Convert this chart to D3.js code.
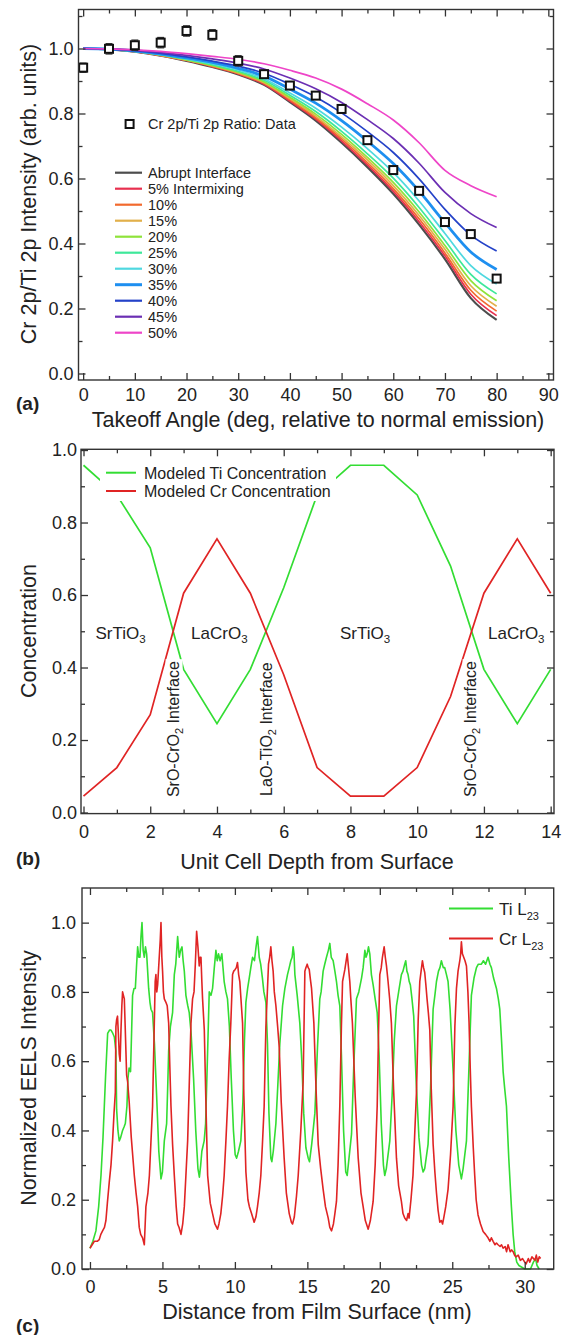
<!DOCTYPE html>
<html>
<head>
<meta charset="utf-8">
<script src="https://cdn.jsdelivr.net/npm/d3@7"></script>
<style>
body { margin: 0; background: #fff; }
text { font-family: "Liberation Sans", Arial, sans-serif; fill: #222; }
</style>
</head>
<body>
<script>
// ---- panel (a): takeoff angle curves ----
var angles = [0,5,10,15,20,25,30,35,40,45,50,55,60,65,70,75,80];
var abrupt = [1.0,0.997,0.99,0.978,0.962,0.943,0.92,0.888,0.835,0.778,0.71,0.635,0.553,0.458,0.352,0.232,0.165];
var mix5  = [1.0,0.997,0.99,0.978,0.963,0.944,0.922,0.89,0.838,0.783,0.716,0.642,0.561,0.467,0.362,0.244,0.178];
var mix10 = [1.0,0.997,0.99,0.979,0.964,0.945,0.923,0.893,0.842,0.787,0.722,0.649,0.569,0.476,0.371,0.256,0.192];
var mix15 = [1.0,0.997,0.991,0.979,0.964,0.947,0.925,0.895,0.846,0.792,0.728,0.657,0.578,0.486,0.382,0.27,0.207];
var mix20 = [1.0,0.997,0.991,0.98,0.965,0.948,0.927,0.898,0.85,0.798,0.736,0.665,0.588,0.497,0.394,0.286,0.224];
var mix25 = [1.0,0.997,0.991,0.981,0.967,0.95,0.93,0.902,0.856,0.806,0.745,0.676,0.601,0.511,0.409,0.305,0.245];
var mix30 = [1.0,0.998,0.992,0.982,0.968,0.953,0.934,0.907,0.863,0.816,0.758,0.692,0.619,0.531,0.431,0.332,0.275];
var mix35 = [1.0,0.998,0.992,0.983,0.971,0.957,0.939,0.915,0.875,0.832,0.778,0.715,0.646,0.561,0.464,0.374,0.32];
var mix40 = [1.0,0.998,0.993,0.985,0.974,0.961,0.946,0.924,0.89,0.851,0.802,0.744,0.68,0.599,0.505,0.426,0.377];
var mix45 = [1.0,0.999,0.995,0.988,0.979,0.968,0.955,0.937,0.909,0.876,0.834,0.781,0.723,0.647,0.557,0.492,0.449];
var mix50 = [1.0,0.999,0.996,0.991,0.984,0.976,0.967,0.953,0.933,0.909,0.875,0.83,0.78,0.71,0.625,0.578,0.544];
var curveNames = ["Abrupt Interface","5% Intermixing","10%","15%","20%","25%","30%","35%","40%","45%","50%"];
var curveColors = ["#4d4d4d","#e8304f","#f26a2e","#e2b04a","#8fe33a","#3ee89a","#4fd8e0","#1e8ff0","#2442c8","#6b2fb3","#ee45c8"];

var ratioVal = [0.941,0.999,1.01,1.018,1.054,1.042,0.962,0.921,0.886,0.855,0.814,0.718,0.626,0.562,0.466,0.429,0.292];
var ratioErr = [0.014,0.016,0.016,0.016,0.016,0.016,0.016,0.012,0.012,0.01,0.012,0.01,0.01,0.008,0.008,0.008,0.008];

// ---- panel (b): modeled concentration ----
var depth = [0,1,2,3,4,5,6,7,8,9,10,11,12,13,14];
var tiConc = [0.958,0.876,0.73,0.395,0.245,0.395,0.62,0.876,0.958,0.958,0.876,0.68,0.395,0.245,0.395];
var crConc = [0.045,0.124,0.27,0.605,0.755,0.605,0.38,0.124,0.045,0.045,0.124,0.32,0.605,0.755,0.605];

// ---- panel (c): EELS line profiles [nm, intensity] ----
var tiL23 = [[0,0.06],[0.2,0.08],[0.41,0.11],[0.6,0.18],[0.76,0.27],[0.9,0.38],[0.99,0.47],[1.08,0.56],[1.22,0.68],[1.35,0.69],[1.45,0.69],[1.58,0.68],[1.68,0.67],[1.79,0.63],[1.84,0.46],[1.93,0.4],[2.02,0.37],[2.12,0.38],[2.25,0.4],[2.35,0.41],[2.44,0.42],[2.55,0.47],[2.62,0.55],[2.7,0.58],[2.8,0.57],[2.94,0.79],[3.04,0.81],[3.13,0.81],[3.22,0.88],[3.29,0.93],[3.37,0.9],[3.45,0.9],[3.52,0.96],[3.59,1.0],[3.67,0.92],[3.75,0.9],[3.83,0.93],[3.91,0.91],[3.98,0.86],[4.05,0.81],[4.14,0.77],[4.21,0.75],[4.32,0.74],[4.45,0.65],[4.6,0.5],[4.75,0.34],[4.9,0.26],[5.0,0.28],[5.13,0.37],[5.29,0.42],[5.36,0.52],[5.43,0.63],[5.55,0.7],[5.7,0.74],[5.82,0.85],[5.92,0.88],[6.05,0.96],[6.16,0.9],[6.25,0.92],[6.35,0.93],[6.43,0.89],[6.51,0.86],[6.62,0.79],[6.75,0.76],[6.85,0.74],[6.98,0.68],[7.15,0.55],[7.3,0.4],[7.45,0.29],[7.55,0.265],[7.64,0.3],[7.72,0.34],[7.88,0.37],[7.98,0.42],[8.1,0.6],[8.23,0.8],[8.35,0.79],[8.46,0.81],[8.58,0.87],[8.69,0.92],[8.78,0.89],[8.87,0.91],[8.98,0.89],[9.1,0.91],[9.18,0.87],[9.26,0.83],[9.38,0.8],[9.49,0.78],[9.62,0.7],[9.75,0.55],[9.9,0.4],[10.02,0.33],[10.12,0.32],[10.25,0.34],[10.41,0.37],[10.55,0.48],[10.66,0.66],[10.76,0.77],[10.88,0.81],[10.99,0.84],[11.1,0.87],[11.22,0.9],[11.35,0.89],[11.46,0.93],[11.56,0.96],[11.68,0.9],[11.78,0.88],[11.9,0.84],[12.0,0.8],[12.14,0.77],[12.25,0.65],[12.35,0.45],[12.48,0.32],[12.55,0.31],[12.65,0.34],[12.83,0.42],[12.95,0.52],[13.1,0.65],[13.29,0.76],[13.45,0.81],[13.63,0.85],[13.75,0.87],[13.86,0.89],[13.95,0.9],[14.02,0.93],[14.08,0.91],[14.14,0.85],[14.3,0.79],[14.48,0.71],[14.62,0.6],[14.75,0.45],[14.9,0.35],[15.06,0.32],[15.15,0.31],[15.3,0.36],[15.52,0.45],[15.7,0.64],[15.86,0.78],[15.95,0.8],[16.09,0.86],[16.2,0.88],[16.32,0.9],[16.45,0.92],[16.55,0.94],[16.65,0.9],[16.78,0.89],[16.9,0.86],[17.01,0.83],[17.12,0.79],[17.24,0.76],[17.35,0.62],[17.5,0.4],[17.65,0.28],[17.75,0.27],[17.85,0.31],[18.05,0.39],[18.2,0.58],[18.39,0.78],[18.55,0.8],[18.74,0.84],[18.85,0.87],[18.97,0.92],[19.05,0.9],[19.13,0.91],[19.22,0.93],[19.31,0.91],[19.42,0.85],[19.54,0.82],[19.68,0.78],[19.82,0.74],[19.95,0.62],[20.1,0.42],[20.25,0.3],[20.34,0.27],[20.45,0.29],[20.69,0.37],[20.85,0.5],[21.0,0.66],[21.15,0.76],[21.3,0.8],[21.49,0.85],[21.6,0.86],[21.72,0.88],[21.79,0.89],[21.87,0.86],[21.95,0.85],[22.03,0.83],[22.11,0.82],[22.22,0.78],[22.34,0.73],[22.5,0.55],[22.7,0.38],[22.88,0.3],[22.99,0.28],[23.1,0.29],[23.33,0.36],[23.5,0.52],[23.68,0.75],[23.8,0.79],[23.91,0.83],[24.05,0.86],[24.15,0.87],[24.25,0.89],[24.38,0.87],[24.48,0.87],[24.6,0.85],[24.71,0.83],[24.85,0.75],[25.05,0.58],[25.25,0.4],[25.45,0.3],[25.63,0.26],[25.75,0.29],[25.98,0.37],[26.15,0.58],[26.32,0.79],[26.5,0.84],[26.67,0.87],[26.8,0.88],[27.01,0.88],[27.15,0.89],[27.3,0.88],[27.47,0.9],[27.6,0.88],[27.7,0.87],[27.85,0.84],[28.05,0.81],[28.18,0.78],[28.28,0.75],[28.4,0.66],[28.51,0.57],[28.62,0.52],[28.74,0.47],[28.9,0.32],[29.08,0.18],[29.2,0.1],[29.31,0.05],[29.45,0.02],[29.6,0.01],[30.0,0.0],[30.4,0.0],[30.6,0.02],[30.75,0.03],[30.85,0.01],[31.0,0.0]];
var crL23 = [[0,0.06],[0.15,0.07],[0.3,0.08],[0.5,0.08],[0.64,0.085],[0.75,0.1],[0.87,0.11],[1.0,0.12],[1.1,0.14],[1.2,0.19],[1.33,0.25],[1.45,0.3],[1.56,0.37],[1.66,0.45],[1.75,0.51],[1.79,0.7],[1.84,0.72],[1.9,0.73],[1.96,0.68],[2.02,0.62],[2.08,0.6],[2.14,0.69],[2.2,0.76],[2.25,0.8],[2.31,0.79],[2.37,0.78],[2.43,0.7],[2.48,0.63],[2.53,0.56],[2.6,0.54],[2.71,0.48],[2.85,0.38],[3.06,0.27],[3.18,0.22],[3.29,0.18],[3.4,0.12],[3.5,0.1],[3.63,0.09],[3.75,0.07],[3.8,0.12],[3.86,0.18],[4.0,0.22],[4.1,0.27],[4.2,0.36],[4.32,0.47],[4.44,0.71],[4.5,0.83],[4.55,0.85],[4.61,0.8],[4.67,0.82],[4.78,0.9],[4.85,0.95],[4.9,1.0],[4.96,0.9],[5.01,0.86],[5.07,0.8],[5.13,0.78],[5.24,0.77],[5.33,0.76],[5.43,0.71],[5.5,0.6],[5.59,0.47],[5.7,0.36],[5.82,0.27],[5.95,0.18],[6.05,0.13],[6.15,0.12],[6.28,0.1],[6.4,0.13],[6.51,0.18],[6.62,0.27],[6.74,0.37],[6.85,0.53],[6.97,0.71],[7.08,0.78],[7.18,0.8],[7.27,0.88],[7.36,0.975],[7.45,0.93],[7.54,0.875],[7.6,0.9],[7.66,0.9],[7.72,0.83],[7.77,0.78],[7.89,0.69],[8.0,0.48],[8.12,0.27],[8.3,0.19],[8.46,0.16],[8.62,0.13],[8.8,0.115],[8.9,0.13],[9.03,0.16],[9.15,0.21],[9.26,0.27],[9.38,0.37],[9.49,0.47],[9.6,0.6],[9.72,0.71],[9.84,0.85],[9.92,0.86],[10.02,0.865],[10.1,0.87],[10.18,0.885],[10.26,0.85],[10.34,0.83],[10.45,0.76],[10.53,0.71],[10.62,0.5],[10.76,0.28],[10.9,0.2],[11.0,0.18],[11.15,0.16],[11.33,0.135],[11.45,0.15],[11.56,0.18],[11.68,0.22],[11.79,0.27],[11.9,0.36],[12.02,0.47],[12.14,0.7],[12.24,0.8],[12.32,0.88],[12.4,0.9],[12.48,0.93],[12.56,0.89],[12.64,0.86],[12.72,0.8],[12.83,0.76],[12.95,0.7],[13.06,0.64],[13.2,0.48],[13.4,0.32],[13.55,0.22],[13.75,0.16],[13.9,0.135],[13.98,0.13],[14.1,0.15],[14.25,0.21],[14.37,0.27],[14.55,0.4],[14.71,0.54],[14.83,0.86],[14.9,0.87],[14.99,0.88],[15.06,0.87],[15.13,0.865],[15.2,0.84],[15.29,0.81],[15.45,0.71],[15.6,0.52],[15.75,0.36],[15.92,0.29],[16.09,0.23],[16.25,0.18],[16.44,0.147],[16.55,0.12],[16.67,0.11],[16.8,0.13],[16.9,0.16],[17.01,0.195],[17.12,0.3],[17.24,0.47],[17.35,0.7],[17.43,0.83],[17.52,0.85],[17.59,0.865],[17.68,0.89],[17.75,0.91],[17.84,0.87],[17.93,0.83],[18.0,0.78],[18.11,0.71],[18.3,0.5],[18.51,0.32],[18.7,0.22],[18.85,0.18],[19.0,0.14],[19.2,0.115],[19.35,0.14],[19.54,0.195],[19.68,0.3],[19.82,0.47],[19.92,0.7],[20.0,0.85],[20.1,0.87],[20.18,0.9],[20.3,0.93],[20.38,0.9],[20.46,0.875],[20.57,0.83],[20.68,0.78],[20.8,0.71],[20.95,0.52],[21.15,0.32],[21.3,0.24],[21.49,0.195],[21.6,0.16],[21.72,0.147],[21.85,0.14],[21.95,0.16],[22.02,0.147],[22.15,0.2],[22.29,0.27],[22.4,0.38],[22.53,0.51],[22.65,0.72],[22.76,0.83],[22.85,0.86],[22.94,0.89],[23.02,0.87],[23.1,0.856],[23.18,0.82],[23.26,0.78],[23.35,0.74],[23.45,0.69],[23.55,0.52],[23.68,0.36],[23.8,0.28],[23.91,0.22],[24.02,0.17],[24.14,0.135],[24.25,0.14],[24.33,0.13],[24.41,0.147],[24.55,0.18],[24.71,0.23],[24.88,0.33],[25.06,0.47],[25.18,0.7],[25.29,0.81],[25.4,0.86],[25.52,0.89],[25.58,0.91],[25.63,0.945],[25.7,0.91],[25.79,0.9],[25.88,0.89],[25.98,0.875],[26.08,0.8],[26.16,0.71],[26.24,0.58],[26.32,0.47],[26.45,0.35],[26.55,0.27],[26.65,0.2],[26.78,0.156],[26.95,0.13],[27.13,0.108],[27.3,0.1],[27.47,0.09],[27.6,0.08],[27.7,0.09],[27.82,0.08],[27.95,0.07],[28.05,0.075],[28.16,0.07],[28.3,0.065],[28.4,0.07],[28.51,0.06],[28.65,0.065],[28.75,0.05],[28.85,0.07],[29.0,0.05],[29.1,0.055],[29.2,0.05],[29.3,0.04],[29.4,0.035],[29.55,0.04],[29.7,0.025],[29.85,0.03],[30.0,0.02],[30.1,0.015],[30.25,0.03],[30.35,0.02],[30.5,0.035],[30.6,0.03],[30.7,0.025],[30.8,0.04],[30.9,0.02],[31.0,0.035],[31.1,0.03]];

var svg = d3.select("body").append("svg")
    .attr("width", 564)
    .attr("height", 1335);

var fmt1 = d3.format(".1f");
var none = function(){ return ""; };

// frame with inward ticks on all four sides
function drawFrame(x, y, c) {
    var xl = x.range()[0], xr = x.range()[1], yb = y.range()[0], yt = y.range()[1];
    function put(axis, vals, size, fmt, pad, tx, ty) {
        var a = svg.append("g")
            .attr("transform", "translate(" + tx + "," + ty + ")")
            .call(axis.tickValues(vals).tickSizeInner(size).tickSizeOuter(0).tickPadding(pad).tickFormat(fmt))
            .attr("font-size", 18)
            .attr("color", "#333");
        a.select(".domain").remove();
        a.selectAll("line").attr("stroke-width", 1.3);
    }
    put(d3.axisBottom(x), c.xMajor, -7, d3.format("d"), c.xPad, 0, yb);
    put(d3.axisBottom(x), c.xMinor, -4, none, 0, 0, yb);
    put(d3.axisTop(x), c.xMajor, -7, none, 0, 0, yt);
    put(d3.axisTop(x), c.xMinor, -4, none, 0, 0, yt);
    put(d3.axisLeft(y), c.yMajor, -7, fmt1, c.yPad, xl, 0);
    put(d3.axisLeft(y), c.yMinor, -4, none, 0, xl, 0);
    put(d3.axisRight(y), c.yMajor, -7, none, 0, xr, 0);
    put(d3.axisRight(y), c.yMinor, -4, none, 0, xr, 0);
    svg.append("rect")
        .attr("x", xl).attr("y", yt)
        .attr("width", xr - xl).attr("height", yb - yt)
        .attr("fill", "none").attr("stroke", "#333").attr("stroke-width", 1.4);
}

function label(txt, x, y, size, opts) {
    var t = svg.append("text").attr("x", x).attr("y", y).attr("font-size", size).text(txt);
    if (opts && opts.anchor) t.attr("text-anchor", opts.anchor);
    if (opts && opts.bold) t.attr("font-weight", "bold");
    return t;
}
function yTitle(txt, cy) {
    svg.append("text")
        .attr("transform", "translate(36," + cy + ") rotate(-90)")
        .attr("text-anchor", "middle")
        .attr("font-size", 21.5)
        .text(txt);
}

// ================= panel (a) =================
var xa = d3.scaleLinear().domain([-0.9, 91]).range([78.5, 553.5]);
var ya = d3.scaleLinear().domain([-0.02, 1.12]).range([380, 9.5]);

var curveSets = [abrupt, mix5, mix10, mix15, mix20, mix25, mix30, mix35, mix40, mix45, mix50];
var lineA = d3.line()
    .x(function(d){ return xa(d[0]); })
    .y(function(d){ return ya(d[1]); })
    .curve(d3.curveMonotoneX);

curveSets.forEach(function(vals, i) {
    svg.append("path")
        .datum(angles.map(function(a, j){ return [a, vals[j]]; }))
        .attr("d", lineA)
        .attr("fill", "none")
        .attr("stroke", curveColors[i])
        .attr("stroke-width", i === 7 ? 2.8 : (i === 0 ? 2.2 : 1.7));
});

// error bars + squares
var pts = angles.map(function(a, j){ return {a: a, v: ratioVal[j], e: ratioErr[j]}; });
var eb = svg.append("g").attr("stroke", "#333").attr("stroke-width", 1.2);
eb.selectAll("line.v").data(pts).enter().append("line")
    .attr("x1", function(d){ return xa(d.a); }).attr("x2", function(d){ return xa(d.a); })
    .attr("y1", function(d){ return ya(d.v - d.e); }).attr("y2", function(d){ return ya(d.v + d.e); });
[-1, 1].forEach(function(s) {
    eb.selectAll(null).data(pts).enter().append("line")
        .attr("x1", function(d){ return xa(d.a) - 3.5; }).attr("x2", function(d){ return xa(d.a) + 3.5; })
        .attr("y1", function(d){ return ya(d.v + s * d.e); }).attr("y2", function(d){ return ya(d.v + s * d.e); });
});
svg.selectAll("rect.pt").data(pts).enter().append("rect")
    .attr("class", "pt")
    .attr("x", function(d){ return xa(d.a) - 4; })
    .attr("y", function(d){ return ya(d.v) - 4; })
    .attr("width", 8).attr("height", 8)
    .attr("fill", "#fff").attr("stroke", "#111").attr("stroke-width", 2);

drawFrame(xa, ya, {
    xMajor: d3.range(0, 91, 10), xMinor: d3.range(5, 90, 10),
    yMajor: [0, 0.2, 0.4, 0.6, 0.8, 1.0], yMinor: [0.1, 0.3, 0.5, 0.7, 0.9, 1.1],
    xPad: 8, yPad: 5
});

// legend (a)
svg.append("rect").attr("x", 125.6).attr("y", 120).attr("width", 8).attr("height", 8)
    .attr("fill", "#fff").attr("stroke", "#111").attr("stroke-width", 2);
label("Cr 2p/Ti 2p Ratio: Data", 148, 129, 14.5);
curveNames.forEach(function(n, i) {
    var yy = 172.7 + 16 * i;
    svg.append("line").attr("x1", 115).attr("x2", 142).attr("y1", yy).attr("y2", yy)
        .attr("stroke", curveColors[i]).attr("stroke-width", i === 7 ? 3 : 2.2);
    label(n, 148, yy + 5.2, 14.5);
});

label("(a)", 16, 410, 19, {bold: true});
label("Takeoff Angle (deg, relative to normal emission)", 318, 427, 21.5, {anchor: "middle"});
yTitle("Cr 2p/Ti 2p Intensity (arb. units)", 194);

// ================= panel (b) =================
var xb = d3.scaleLinear().domain([-0.075, 14.1]).range([81, 554]);
var yb = d3.scaleLinear().domain([-0.003, 1.002]).range([813.6, 449.3]);
var lineB = d3.line().x(function(d){ return xb(d[0]); }).y(function(d){ return yb(d[1]); });

svg.append("path").datum(depth.map(function(d, i){ return [d, tiConc[i]]; }))
    .attr("d", lineB).attr("fill", "none").attr("stroke", "#33dd33").attr("stroke-width", 1.7);
svg.append("path").datum(depth.map(function(d, i){ return [d, crConc[i]]; }))
    .attr("d", lineB).attr("fill", "none").attr("stroke", "#e02424").attr("stroke-width", 1.7);

// region names
function subLabel(main, sub, tail, x, y, size) {
    var t = svg.append("text").attr("x", x).attr("y", y).attr("font-size", size).attr("text-anchor", "middle");
    t.append("tspan").text(main);
    t.append("tspan").attr("font-size", size * 0.68).attr("dy", 4).text(sub);
    if (tail) t.append("tspan").attr("dy", -4).text(tail);
    return t;
}
[["SrTiO", 1.11], ["LaCrO", 4.07], ["SrTiO", 8.44], ["LaCrO", 12.97]].forEach(function(r) {
    subLabel(r[0], "3", null, xb(r[1]), 639, 17);
});

// interface labels (rotated, white backing)
[["SrO-CrO", 2.67], ["LaO-TiO", 5.48], ["SrO-CrO", 11.57]].forEach(function(r) {
    var g = svg.append("g").attr("transform", "translate(" + (xb(r[1]) + 6) + "," + yb(0.23) + ") rotate(-90)");
    var bg = g.append("rect").attr("fill", "#fff");
    var t = g.append("text").attr("text-anchor", "middle").attr("font-size", 16);
    t.append("tspan").text(r[0]);
    t.append("tspan").attr("font-size", 11).attr("dy", 4).text("2");
    t.append("tspan").attr("dy", -4).text(" Interface");
    var w = t.node().getComputedTextLength();
    bg.attr("x", -w / 2 - 2).attr("y", -13).attr("width", w + 4).attr("height", 17);
});

drawFrame(xb, yb, {
    xMajor: d3.range(0, 15, 2), xMinor: d3.range(1, 14, 2),
    yMajor: [0, 0.2, 0.4, 0.6, 0.8, 1.0], yMinor: [0.1, 0.3, 0.5, 0.7, 0.9],
    xPad: 12, yPad: 4
});

// legend (b)
svg.append("rect").attr("x", 100).attr("y", 461).attr("width", 236).attr("height", 40).attr("fill", "#fff");
svg.append("line").attr("x1", 106).attr("x2", 136).attr("y1", 472.7).attr("y2", 472.7).attr("stroke", "#33dd33").attr("stroke-width", 2);
label("Modeled Ti Concentration", 144, 478.5, 16);
svg.append("line").attr("x1", 106).attr("x2", 136).attr("y1", 491).attr("y2", 491).attr("stroke", "#e02424").attr("stroke-width", 2);
label("Modeled Cr Concentration", 144, 496.8, 16);

label("(b)", 16, 865, 19, {bold: true});
label("Unit Cell Depth from Surface", 317, 869, 21.5, {anchor: "middle"});
yTitle("Concentration", 631);

// ================= panel (c) =================
var xc = d3.scaleLinear().domain([-0.55, 32.0]).range([82, 553.7]);
var yc = d3.scaleLinear().domain([0, 1.1]).range([1269, 888]);
var lineC = d3.line().x(function(d){ return xc(d[0]); }).y(function(d){ return yc(d[1]); });

svg.append("path").datum(tiL23).attr("d", lineC).attr("fill", "none")
    .attr("stroke", "#33dd33").attr("stroke-width", 1.6).attr("stroke-linejoin", "round");
svg.append("path").datum(crL23).attr("d", lineC).attr("fill", "none")
    .attr("stroke", "#e02424").attr("stroke-width", 1.6).attr("stroke-linejoin", "round");

drawFrame(xc, yc, {
    xMajor: d3.range(0, 31, 5), xMinor: [2.5, 7.5, 12.5, 17.5, 22.5, 27.5],
    yMajor: [0, 0.2, 0.4, 0.6, 0.8, 1.0], yMinor: [0.1, 0.3, 0.5, 0.7, 0.9],
    xPad: 11, yPad: 6
});

// legend (c)
[["Ti L", "#33dd33", 908.5], ["Cr L", "#e02424", 938.5]].forEach(function(r) {
    svg.append("line").attr("x1", 449).attr("x2", 493).attr("y1", r[2]).attr("y2", r[2])
        .attr("stroke", r[1]).attr("stroke-width", 2);
    var t = svg.append("text").attr("x", 499).attr("y", r[2] + 6).attr("font-size", 17);
    t.append("tspan").text(r[0]);
    t.append("tspan").attr("font-size", 11).attr("dy", 5).text("23");
});

label("(c)", 16, 1332, 19, {bold: true});
label("Distance from Film Surface (nm)", 317, 1319, 21.5, {anchor: "middle"});
yTitle("Normalized EELS Intensity", 1078);
</script>
</body>
</html>
